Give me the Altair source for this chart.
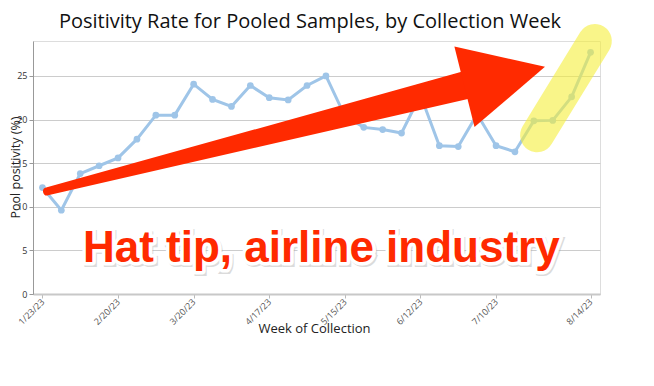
import altair as alt
import pandas as pd

# ---- data ----
chart_title = ["Positivity Rate for Pooled Samples, by Collection Week"]
weeks = [
    "2023-01-23", "2023-01-30", "2023-02-06", "2023-02-13", "2023-02-20", "2023-02-27",
    "2023-03-06", "2023-03-13", "2023-03-20", "2023-03-27", "2023-04-03", "2023-04-10",
    "2023-04-17", "2023-04-24", "2023-05-01", "2023-05-08", "2023-05-15", "2023-05-22",
    "2023-05-29", "2023-06-05", "2023-06-12", "2023-06-19", "2023-06-26", "2023-07-03",
    "2023-07-10", "2023-07-17", "2023-07-24", "2023-07-31", "2023-08-07", "2023-08-14",
]
positivity = [
    12.2, 9.6, 13.8, 14.7, 15.6, 17.75, 20.5, 20.5, 24.05, 22.3, 21.5, 23.9,
    22.5, 22.25, 23.9, 25.0, 20.4, 19.1, 18.85, 18.45, 22.8, 17.0, 16.9, 20.6,
    17.0, 16.3, 19.85, 19.9, 22.6, 27.7,
]
tick_dates = [(2023, 1, 23), (2023, 2, 20), (2023, 3, 20), (2023, 4, 17),
              (2023, 5, 15), (2023, 6, 12), (2023, 7, 10), (2023, 8, 14)]
y_ticks = [0, 5, 10, 15, 20, 25]

# annotations (in data coordinates)
arrow_body_dates = ["2023-01-24T17:00:00Z", "2023-06-29T12:00:00Z"]
arrow_body_values = [11.75, 24.0]
arrow_body_frac = [0, 1]
arrow_head_date = ["2023-07-13T05:00:00Z"]
arrow_head_value = [24.9]
highlight_dates = ["2023-07-25T05:00:00Z", "2023-08-15T14:00:00Z"]
highlight_values = [18.2, 29.0]
note_text = ["Hat tip, airline industry"]
note_date = ["2023-02-07T00:00:00Z"]
note_value = [3.67]

df = pd.DataFrame({"date": weeks, "value": positivity})
arrow_df = pd.DataFrame({"date": arrow_body_dates, "value": arrow_body_values, "w": arrow_body_frac})
head_df = pd.DataFrame({"date": arrow_head_date, "value": arrow_head_value})
hl_df = pd.DataFrame({"date": highlight_dates, "value": highlight_values})
note_df = pd.DataFrame({"date": note_date, "value": note_value, "label": note_text})
title_df = pd.DataFrame({"label": chart_title})

x_scale = alt.Scale(
    type="utc",
    domain=[alt.DateTime(year=2023, month=1, date=19, hours=12, utc=True),
            alt.DateTime(year=2023, month=8, date=17, hours=12, utc=True)],
)
y_scale = alt.Scale(domain=[0, 29], nice=False, zero=True)

x_axis = alt.Axis(
    values=[alt.DateTime(year=y, month=m, date=d, utc=True) for (y, m, d) in tick_dates],
    format="%-m/%-d/%y",
    labelAngle=315,
    labelAlign="right",
    labelBaseline="middle",
    labelFont="Open Sans",
    labelFontSize=9,
    labelColor="#555",
    labelPadding=2,
    tickSize=4,
    tickColor="#bbb",
    domainColor="#c8c8c8",
    domainWidth=2,
    grid=False,
    title="Week of Collection",
    titleFont="Open Sans",
    titleFontSize=13,
    titleFontWeight="normal",
    titleColor="#222",
    titleX=281,
    titleY=34,
    titleBaseline="middle",
)
y_axis = alt.Axis(
    values=y_ticks,
    labelFont="Open Sans",
    labelFontSize=9,
    labelColor="#333",
    labelPadding=2,
    tickSize=4,
    tickColor="#999",
    domainColor="#999",
    gridColor="#cccccc",
    gridWidth=1,
    title="Pool positivity (%)",
    titleFont="Open Sans",
    titleFontSize=12.5,
    titleFontWeight="normal",
    titleColor="#222",
    titleX=-14,
    titleY=126,
    titleBaseline="alphabetic",
)

X = alt.X("date:T", scale=x_scale, axis=x_axis)
Y = alt.Y("value:Q", scale=y_scale, axis=y_axis)

line = alt.Chart(df).mark_line(
    color="#9fc5e8", strokeWidth=3,
    point=alt.OverlayMarkDef(color="#9fc5e8", size=45, filled=True, opacity=1),
).encode(x=X, y=Y)

highlight = alt.Chart(hl_df).mark_line(
    color="#f5ef3a", opacity=0.6, strokeWidth=34, strokeCap="round", clip=False
).encode(x=X, y=Y)

body = alt.Chart(arrow_df).mark_trail(color="#ff2a00").encode(
    x=X, y=Y,
    size=alt.Size("w:Q", scale=alt.Scale(domain=[0, 1], range=[8, 28]), legend=None),
)

head = alt.Chart(head_df).mark_point(
    shape="M -1 -1 L 1 0 L -1 1 Z", filled=True, color="#ff2a00",
    opacity=1, size=6889, angle=346,
).encode(x=X, y=Y)

text_common = dict(font="Liberation Sans", fontSize=44, fontWeight="bold",
                   align="left", baseline="alphabetic")
note_shadow = alt.Chart(note_df).mark_text(
    color="#999", stroke="#999", strokeWidth=6, opacity=0.35, dx=1.5, dy=2.5, **text_common
).encode(x=X, y=Y, text="label:N")
note_halo = alt.Chart(note_df).mark_text(
    color="white", stroke="white", strokeWidth=7, strokeJoin="round", **text_common
).encode(x=X, y=Y, text="label:N")
note = alt.Chart(note_df).mark_text(color="#ff2a00", **text_common).encode(
    x=X, y=Y, text="label:N"
)

title = alt.Chart(title_df).mark_text(
    font="Open Sans", fontSize=20, color="#111", align="center", baseline="alphabetic"
).encode(x=alt.value(277), y=alt.value(-13), text="label:N")

chart = alt.layer(line, highlight, body, head, note_shadow, note_halo, note, title).properties(
    width=567,
    height=253,
    padding={"left": 25, "top": 33, "right": 46, "bottom": 84},
    autosize=alt.AutoSizeParams(type="none"),
).configure_view(strokeWidth=0).configure(background="white")

chart.save("out.html", embed_options={"renderer": "svg", "actions": False})
